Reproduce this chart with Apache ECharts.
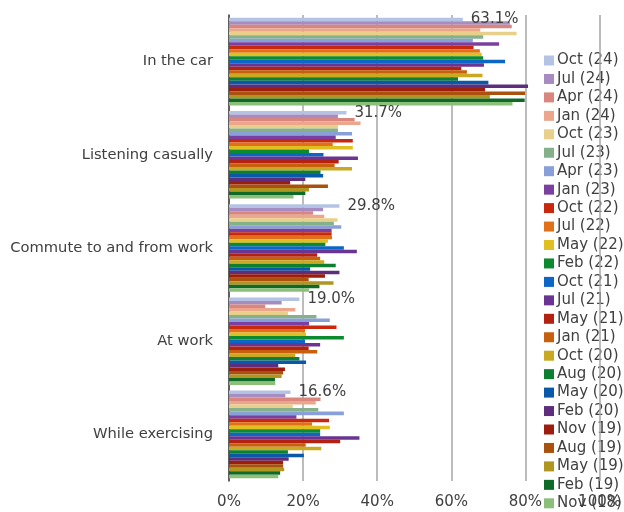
<!DOCTYPE html>
<html>
<head>
<meta charset="utf-8">
<script src="https://cdn.jsdelivr.net/npm/echarts@6/dist/echarts.min.js"></script>
<style>
  html, body { margin: 0; padding: 0; background: #fff; }
  #chart { width: 624px; height: 512px; }
</style>
</head>
<body>
<div id="chart"></div>
<script>
// Survey periods, newest first
const periods = ['Oct (24)', 'Jul (24)', 'Apr (24)', 'Jan (24)', 'Oct (23)', 'Jul (23)', 'Apr (23)', 'Jan (23)',
  'Oct (22)', 'Jul (22)', 'May (22)', 'Feb (22)', 'Oct (21)', 'Jul (21)', 'May (21)', 'Jan (21)',
  'Oct (20)', 'Aug (20)', 'May (20)', 'Feb (20)', 'Nov (19)', 'Aug (19)', 'May (19)', 'Feb (19)', 'Nov (18)'];

const periodColors = ['#b4c3e4', '#a68cc0', '#d9867f', '#eba68c', '#e8cf8a', '#85b18a', '#889fd7', '#7b3fa1',
  '#c8280c', '#e27019', '#dfbf21', '#0b8a30', '#0b66c6', '#6a3592', '#b32211', '#c6600f',
  '#c9a822', '#0e7f31', '#0a58a8', '#5e2d7c', '#9c1d0c', '#a9510d', '#b09520', '#0e6a26', '#8cc07a'];

const categories = ['In the car', 'Listening casually', 'Commute to and from work', 'At work', 'While exercising'];

// Share of listeners (%) per period, one list per listening situation
const inTheCar = [63.1, 75.8, 76.3, 67.8, 77.6, 68.6, 65.8, 72.9, 66.0, 67.7, 68.2, 68.6, 74.5, 68.8, 62.7, 64.2, 68.4, 61.8, 70.0, 80.7, 69.1, 79.9, 70.4, 79.8, 76.5];
const listeningCasually = [31.7, 29.4, 33.9, 35.5, 29.4, 29.4, 33.2, 28.8, 33.4, 28.0, 33.4, 21.6, 25.5, 34.8, 29.6, 28.5, 33.2, 24.7, 25.4, 20.6, 16.5, 26.7, 21.6, 20.6, 17.4];
const commute = [29.8, 25.4, 22.7, 25.7, 29.3, 28.3, 30.3, 27.7, 27.7, 27.8, 26.7, 26.0, 31.0, 34.5, 23.8, 24.6, 25.7, 28.8, 21.9, 29.8, 25.9, 21.5, 28.2, 24.4, 21.6];
const atWork = [19.0, 14.2, 9.8, 17.9, 15.9, 23.6, 27.2, 21.6, 29.0, 20.5, 20.8, 31.0, 20.5, 24.6, 21.5, 23.8, 17.9, 19.0, 20.8, 13.3, 15.1, 14.6, 14.2, 12.4, 12.5];
const whileExercising = [16.6, 15.2, 24.7, 23.4, 17.2, 24.1, 31.0, 18.2, 27.0, 22.4, 27.2, 24.6, 24.6, 35.2, 30.0, 20.7, 24.9, 15.9, 20.2, 16.1, 14.6, 14.6, 14.9, 13.8, 13.3];

const xTicks = { min: 0, max: 100, interval: 20 };

const byCategory = [inTheCar, listeningCasually, commute, atWork, whileExercising];
const FONT = 'DejaVu Sans';
const TEXT = '#404040';

const series = periods.map((name, i) => ({
  name: name,
  type: 'bar',
  z: 2,
  barGap: '0%',
  barCategoryGap: '6%',
  itemStyle: { color: periodColors[i] },
  data: byCategory.map(vals => vals[i]),
  label: i === 0 ? {
    show: true,
    position: 'right',
    distance: 8,
    fontFamily: FONT,
    fontSize: 15,
    color: TEXT,
    formatter: p => p.value.toFixed(1) + '%'
  } : { show: false },
  emphasis: { disabled: true }
}));

const chart = echarts.init(document.getElementById('chart'), null, { renderer: 'canvas' });
chart.setOption({
  animation: false,
  backgroundColor: '#ffffff',
  grid: { left: 229, right: 21, top: 15, bottom: 31, containLabel: false },
  legend: {
    orient: 'vertical',
    left: 544,
    top: 53,
    z: 0,
    itemWidth: 10,
    itemHeight: 10,
    itemGap: 3.45,
    icon: 'rect',
    data: periods,
    textStyle: { fontFamily: FONT, fontSize: 15, color: TEXT, padding: [0, 0, 0, -2] },
    padding: 0
  },
  xAxis: {
    type: 'value',
    z: 1,
    min: xTicks.min,
    max: xTicks.max,
    interval: xTicks.interval,
    axisLine: { show: false },
    axisTick: { show: false },
    splitLine: { show: true, lineStyle: { color: '#a6a6a6', width: 1.5 } },
    axisLabel: {
      fontFamily: FONT, fontSize: 15, color: TEXT, margin: 14,
      formatter: v => v + '%'
    }
  },
  yAxis: {
    type: 'category',
    inverse: true,
    data: categories,
    z: 1,
    axisLine: { show: true, lineStyle: { color: '#404040', width: 1.5 } },
    axisTick: { show: false },
    axisLabel: { fontFamily: FONT, fontSize: 14.7, color: TEXT, margin: 16 }
  },
  series: series
});
</script>
</body>
</html>
